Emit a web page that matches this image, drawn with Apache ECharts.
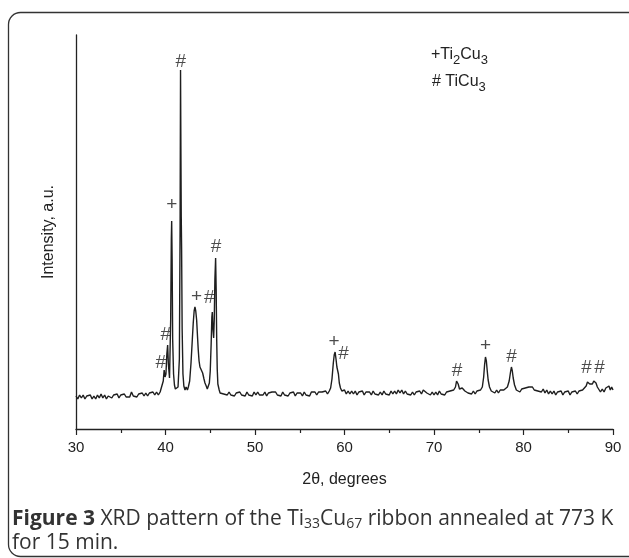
<!DOCTYPE html>
<html>
<head>
<meta charset="utf-8">
<script src="https://cdn.jsdelivr.net/npm/echarts@6/dist/echarts.min.js"></script>
<style>
  html, body { margin: 0; padding: 0; background: #fff; }
  #xrdBox { width: 629px; height: 558px; }
</style>
</head>
<body>
<div id="xrdBox"></div>
<script>
  // 2theta (deg), intensity (a.u.)
  const xrdScan = [
    [30.0,33],[30.2,30],[30.4,34],[30.6,31],[30.8,34],[31.0,30],[31.2,33],[31.4,31],[31.6,34],[31.8,30],
    [32.0,33],[32.2,30],[32.4,34],[32.6,31],[32.8,35],[33.0,31],[33.2,34],[33.4,30],[33.6,33],[33.8,35],
    [34.0,31],[34.2,34],[34.4,32],[34.6,35],[34.8,31],[35.0,34],[35.2,32],[35.4,35],[35.6,32],[35.8,34],
    [36.0,32],[36.2,37],[36.4,33],[36.6,35],[36.8,32],[37.0,35],[37.2,33],[37.4,36],[37.6,33],[37.8,36],
    [38.0,33],[38.2,36],[38.4,34],[38.6,37],[38.8,34],[39.0,37],[39.2,34],[39.4,37],[39.6,38],
    [39.75,48],[39.85,59],[39.95,52],[40.05,55],[40.15,75],[40.24,84],[40.32,65],[40.45,51],[40.58,110],
    [40.65,190],[40.69,208],[40.74,170],[40.8,90],[40.9,55],[41.0,44],[41.1,40],[41.25,38],[41.4,42],
    [41.55,70],[41.63,200],[41.68,359],[41.72,280],[41.76,212],[41.8,180],[41.86,100],[41.95,55],[42.05,43],
    [42.18,39],[42.3,42],[42.45,39],[42.55,42],[42.7,48],[42.85,66],[43.0,90],[43.1,106],[43.2,118],
    [43.29,122],[43.38,118],[43.48,109],[43.58,92],[43.66,79],[43.75,68],[43.85,62],[44.0,59],[44.15,56],
    [44.3,50],[44.41,46],[44.55,43],[44.67,40],[44.8,42],[44.9,46],[45.0,58],[45.1,85],[45.18,112],
    [45.23,117],[45.3,100],[45.38,91],[45.45,110],[45.52,150],[45.6,171],[45.66,140],[45.72,90],[45.78,60],
    [45.85,45],[46.0,39],[46.1,36],[46.3,38],[46.5,35],[46.7,37],[46.9,34],[47.1,37],[47.3,34],[47.5,36],
    [47.7,33],[47.9,36],[48.1,34],[48.3,37],[48.5,34],[48.7,36],[48.9,33],[49.1,37],[49.3,34],[49.5,36],
    [49.7,33],[49.9,37],[50.1,34],[50.3,37],[50.5,34],[50.7,36],[50.9,34],[51.1,37],[51.3,33],[51.5,36],
    [51.7,34],[51.9,37],[52.0,39],[52.1,35],[52.3,37],[52.5,34],[52.7,36],[52.9,33],[53.1,37],[53.3,34],
    [53.5,36],[53.7,33],[53.9,36],[54.1,34],[54.3,37],[54.5,33],[54.7,36],[54.9,34],[55.1,36],[55.3,33],
    [55.5,37],[55.7,34],[55.9,36],[56.1,33],[56.3,37],[56.5,35],[56.7,37],[56.9,34],[57.1,37],[57.3,35],
    [57.5,37],[57.7,35],[57.9,38],[58.1,35],[58.3,38],[58.45,41],[58.6,50],[58.75,66],[58.85,74],[58.95,77],
    [59.05,70],[59.15,62],[59.24,61],[59.32,55],[59.42,46],[59.55,41],[59.7,38],[59.85,37],[60.0,39],
    [60.2,35],[60.4,38],[60.6,35],[60.8,38],[61.0,35],[61.2,38],[61.4,34],[61.6,37],[61.8,35],[62.0,38],
    [62.2,34],[62.4,37],[62.6,35],[62.8,37],[63.0,34],[63.2,38],[63.4,35],[63.6,37],[63.8,34],[64.0,37],
    [64.2,34],[64.4,38],[64.6,35],[64.8,37],[65.0,34],[65.2,38],[65.4,35],[65.6,38],[65.8,35],[66.0,39],
    [66.2,36],[66.4,39],[66.6,35],[66.8,38],[67.0,35],[67.2,37],[67.4,34],[67.6,37],[67.8,34],[68.0,37],
    [68.2,35],[68.4,38],[68.6,35],[68.8,39],[69.0,40],[69.2,36],[69.4,38],[69.6,34],[69.8,37],[70.0,34],
    [70.2,37],[70.4,34],[70.6,38],[70.8,35],[71.0,37],[71.2,34],[71.4,37],[71.6,35],[71.8,38],[72.0,36],
    [72.2,39],[72.4,42],[72.52,48],[72.6,49],[72.7,45],[72.85,40],[73.0,38],[73.15,41],[73.3,43],[73.45,38],
    [73.6,39],[73.8,36],[74.0,38],[74.2,35],[74.4,38],[74.6,35],[74.8,38],[75.0,36],[75.2,39],[75.4,42],
    [75.55,52],[75.65,64],[75.75,72],[75.85,68],[75.95,58],[76.05,49],[76.2,42],[76.4,38],[76.6,39],
    [76.8,36],[77.0,39],[77.2,36],[77.4,39],[77.6,37],[77.8,39],[78.0,38],[78.2,42],[78.4,48],[78.55,57],
    [78.65,62],[78.75,58],[78.85,51],[79.0,44],[79.2,39],[79.4,40],[79.6,37],[79.8,40],[80.0,38],[80.2,41],
    [80.4,40],[80.6,42],[80.8,40],[81.0,42],[81.2,39],[81.4,41],[81.6,38],[81.8,40],[82.0,37],[82.2,40],
    [82.4,36],[82.6,39],[82.8,35],[83.0,38],[83.2,35],[83.4,38],[83.6,34],[83.8,37],[84.0,35],[84.2,38],
    [84.4,34],[84.6,37],[84.8,35],[85.0,38],[85.2,34],[85.4,37],[85.6,35],[85.8,38],[86.0,35],[86.2,38],
    [86.4,36],[86.6,39],[86.8,40],[87.0,43],[87.15,47],[87.25,48],[87.4,45],[87.55,43],[87.7,45],[87.85,48],
    [87.96,49],[88.1,46],[88.25,42],[88.4,40],[88.6,37],[88.8,40],[89.0,37],[89.2,41],[89.4,39],[89.55,43],
    [89.7,39],[89.85,42],[90.0,39]
  ]

  // phase marks: + Ti2Cu3, # TiCu3
  const markAngle  = [39.46, 40.02, 40.69, 41.7, 43.48, 44.9, 45.64, 58.83, 59.9, 72.58, 75.77, 78.66, 87.05, 88.5]
  const markHeight = [66, 94, 224, 367, 132, 131, 182, 87, 75, 58, 83, 72, 61, 61]
  const markSymbol = ['#', '#', '+', '#', '+', '#', '#', '+', '#', '#', '+', '#', '#', '#']

  const xTicks = [30, 40, 50, 60, 70, 80, 90]

  const markData = markAngle.map((a, i) => ({
    value: [a, markHeight[i]],
    label: { formatter: markSymbol[i] }
  }))

  const legendRich = {
    n: { fontSize: 16, fontFamily: 'Liberation Sans', fill: '#222' },
    s: { fontSize: 13, padding: [11, 0, 0, 0], fontFamily: 'Liberation Sans', fill: '#222' }
  }
  const captionRich = {
    b: { fontSize: 21, fontWeight: 'bold', fontFamily: 'Open Sans', fill: '#333' },
    n: { fontSize: 21, fontFamily: 'Open Sans', fill: '#333' },
    s: { fontSize: 14, padding: [9, 0, 0, 0], fontFamily: 'Open Sans', fill: '#333' }
  }

  var chartDom = echarts.init(document.getElementById('xrdBox'))
  let option = {
    animation: false,
    textStyle: { fontFamily: 'Liberation Sans' },
    grid: { left: 76, right: 16, top: 35, bottom: 129 },
    xAxis: {
      type: 'value',
      min: xTicks[0],
      max: xTicks[xTicks.length - 1],
      interval: 10,
      name: '2θ, degrees',
      nameLocation: 'middle',
      nameGap: 43,
      nameTextStyle: { fontSize: 16, color: '#222', fontFamily: 'Liberation Sans' },
      axisLine: { lineStyle: { color: '#222', width: 1.3 } },
      axisTick: { inside: false, length: 6, lineStyle: { color: '#222', width: 1.2 } },
      minorTick: { show: true, splitNumber: 2, length: 4, lineStyle: { color: '#222', width: 1.2 } },
      axisLabel: { fontSize: 15, color: '#222', margin: 11 },
      splitLine: { show: false }
    },
    yAxis: {
      type: 'value',
      min: 0,
      max: 394,
      name: 'Intensity, a.u.',
      nameLocation: 'middle',
      nameRotate: 90,
      nameGap: 19,
      nameTextStyle: { fontSize: 16, color: '#222', fontFamily: 'Liberation Sans' },
      axisLine: { show: true, lineStyle: { color: '#222', width: 1.3 } },
      axisTick: { show: false },
      axisLabel: { show: false },
      splitLine: { show: false }
    },
    series: [
      {
        name: 'XRD',
        type: 'line',
        data: xrdScan,
        symbol: 'none',
        lineStyle: { color: '#1e1e1e', width: 1.4 },
        z: 2
      },
      {
        name: 'marks',
        type: 'scatter',
        data: markData,
        symbolSize: 0,
        label: {
          show: true,
          position: 'inside',
          fontSize: 19,
          color: '#1e1e1e',
          fontFamily: 'Liberation Sans'
        },
        z: 3
      }
    ],
    graphic: [
      {
        type: 'rect',
        shape: { x: 8.5, y: 12.5, width: 640, height: 544, r: 12 },
        style: { fill: 'none', stroke: '#333', lineWidth: 1.3 },
        silent: true
      },
      {
        type: 'text',
        left: 431,
        top: 47,
        style: { text: '{n|+Ti}{s|2}{n|Cu}{s|3}', rich: legendRich }
      },
      {
        type: 'text',
        left: 432,
        top: 74,
        style: { text: '{n|# TiCu}{s|3}', rich: legendRich }
      },
      {
        type: 'text',
        left: 12,
        top: 509,
        style: {
          text: '{b|Figure 3}{n| XRD pattern of the Ti}{s|33}{n|Cu}{s|67}{n| ribbon annealed at 773 K}',
          rich: captionRich
        }
      },
      {
        type: 'text',
        left: 12,
        top: 533,
        style: { text: '{n|for 15 min.}', rich: captionRich }
      }
    ]
  };
  option && chartDom.setOption(option);
</script>
</body>
</html>
